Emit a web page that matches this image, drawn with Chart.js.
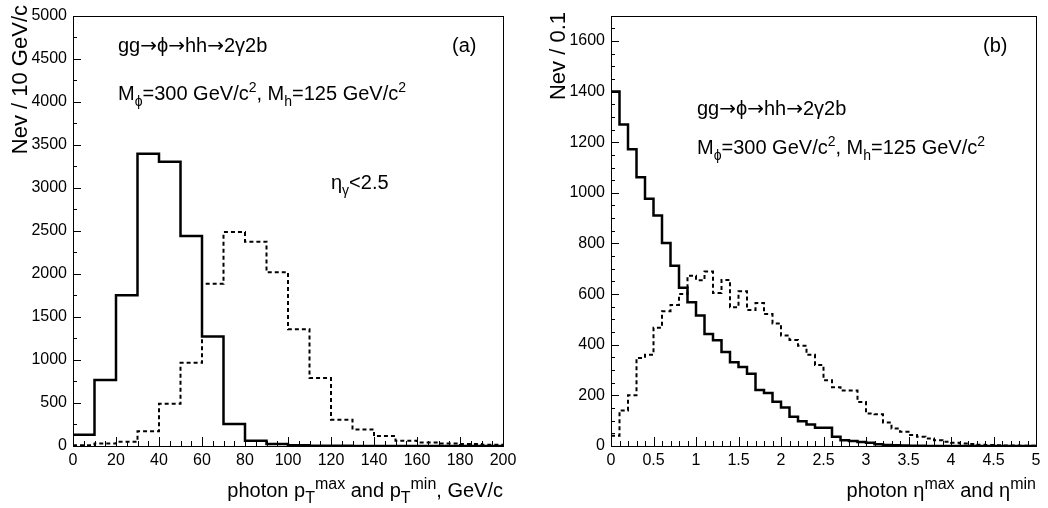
<!DOCTYPE html>
<html>
<head>
<meta charset="utf-8">
<script src="https://cdn.jsdelivr.net/npm/chart.js@4.4.1/dist/chart.umd.min.js"></script>
<style>
  html, body { margin: 0; padding: 0; background: #fff; }
  #wrap { position: relative; width: 1048px; height: 508px; }
  .panel { position: absolute; top: 0; height: 508px; }
  #panel-a { left: 0; width: 530px; }
  #panel-b { left: 530px; width: 518px; }
</style>
</head>
<body>
<div id="wrap">
  <div class="panel" id="panel-a"><canvas id="chart-a"></canvas></div>
  <div class="panel" id="panel-b"><canvas id="chart-b"></canvas></div>
</div>
<script>
/* data: panel (a), photon pT in 10 GeV/c bins starting at 0 */
const PT_BIN_START = 0;
const PT_BIN_WIDTH = 10;
const PT_MIN_COUNTS = [130, 768, 1751, 3394, 3303, 2439, 1273, 256, 61, 24, 8, 4, 2, 1, 1, 0, 0, 0, 0, 0];
const PT_MAX_COUNTS = [10, 30, 50, 172, 490, 967, 1884, 2485, 2374, 2018, 1357, 790, 306, 191, 115, 61, 42, 30, 22, 15];
const PT_X_TICKS = [0, 20, 40, 60, 80, 100, 120, 140, 160, 180, 200];
const PT_Y_TICKS = [0, 500, 1000, 1500, 2000, 2500, 3000, 3500, 4000, 4500, 5000];

/* data: panel (b), photon eta in 0.1 bins starting at 0 */
const ETA_BIN_START = 0;
const ETA_BIN_WIDTH = 0.1;
const ETA_MIN_COUNTS = [
  1400, 1270, 1172, 1062, 977, 910, 802, 712, 625, 568,
  515, 442, 418, 371, 331, 312, 285, 221, 209, 175,
  152, 116, 98, 85, 72, 72, 37, 23, 20, 16,
  13, 7, 4, 3, 2, 1, 1, 0, 0, 0,
  0, 0, 0, 0, 0, 0, 0, 0, 0, 0,
];
const ETA_MAX_COUNTS = [
  40, 140, 200, 348, 360, 467, 532, 557, 600, 672,
  655, 689, 604, 656, 548, 611, 537, 565, 521, 484,
  436, 419, 396, 360, 320, 260, 232, 219, 219, 174,
  128, 125, 93, 69, 56, 43, 37, 30, 23, 17,
  13, 10, 8, 5, 4, 3, 2, 2, 1, 1,
];
const ETA_X_TICKS = [0, 0.5, 1, 1.5, 2, 2.5, 3, 3.5, 4, 4.5, 5];
const ETA_Y_TICKS = [0, 200, 400, 600, 800, 1000, 1200, 1400, 1600];

/* constants */
const FONT_FAMILY = '"Liberation Sans", Arial, Helvetica, sans-serif';
const ARROW_FONT_FAMILY = '"DejaVu Sans", sans-serif';
const TEXT_SIZE = 20;

/* utilities */
const buildHistogramPoints = (start, width, counts) => {
  const points = counts.map((count, index) => ({ x: start + index * width, y: count }));
  points.push({ x: start + counts.length * width, y: counts[counts.length - 1] });
  return points;
};

const formatTick = (value) => String(Math.round(value * 10) / 10);

const pieceFont = (mode, size, scriptScale) => {
  if (mode === 'arrow') return size + 'px ' + ARROW_FONT_FAMILY;
  if (mode) return size * scriptScale + 'px ' + FONT_FAMILY;
  return size + 'px ' + FONT_FAMILY;
};

const drawRichText = (ctx, parts, x, y, size, align, scriptScale = 0.7) => {
  const pieces = parts.map((part) => {
    const [text, mode] = Array.isArray(part) ? part : [part, null];
    const font = pieceFont(mode, size, scriptScale);
    ctx.font = font;
    return { text, mode, font, width: ctx.measureText(text).width };
  });
  const total = pieces.reduce((sum, piece) => sum + piece.width, 0);
  let cursor = align === 'right' ? x - total : x;

  ctx.textAlign = 'left';
  ctx.textBaseline = 'alphabetic';
  for (const piece of pieces) {
    ctx.font = piece.font;
    let shift = 0;
    if (piece.mode === 'sup') shift = -size * 0.42;
    if (piece.mode === 'sub') shift = size * 0.28;
    ctx.fillText(piece.text, cursor, y + shift);
    cursor += piece.width;
  }
};

/* plugins */
const frameAndTicksPlugin = {
  id: 'frameAndTicks',
  afterDatasetsDraw(chart, args, options) {
    const { ctx, chartArea: area, scales } = chart;
    const drawAxisTicks = (scale, minorStep, majorValues, isX) => {
      const count = Math.round((scale.max - scale.min) / minorStep);
      for (let i = 0; i <= count; i++) {
        const value = scale.min + i * minorStep;
        const isMajor = majorValues.some((major) => Math.abs(major - value) < minorStep / 100);
        const pixel = Math.round(scale.getPixelForValue(value)) + 0.5;
        if (isX) {
          const length = isMajor ? options.xMajor : options.xMinor;
          ctx.moveTo(pixel, area.bottom);
          ctx.lineTo(pixel, area.bottom - length);
        } else {
          const length = isMajor ? options.yMajor : options.yMinor;
          ctx.moveTo(area.left, pixel);
          ctx.lineTo(area.left + length, pixel);
        }
      }
    };

    ctx.save();
    ctx.strokeStyle = '#000';
    ctx.lineWidth = 1;
    ctx.beginPath();
    drawAxisTicks(scales.x, options.xStep, options.xTicks, true);
    drawAxisTicks(scales.y, options.yStep, options.yTicks, false);
    ctx.stroke();
    ctx.strokeRect(Math.round(area.left) + 0.5, Math.round(area.top) + 0.5,
      Math.round(area.right - area.left), Math.round(area.bottom - area.top));
    ctx.restore();
  },
};

const labelsPlugin = {
  id: 'labels',
  afterDraw(chart, args, options) {
    const { ctx } = chart;
    ctx.save();
    ctx.fillStyle = '#000';
    for (const label of options.items) {
      const size = label.size || TEXT_SIZE;
      if (label.rotate) {
        ctx.save();
        ctx.translate(label.x, label.y);
        ctx.rotate(-Math.PI / 2);
        drawRichText(ctx, label.parts, 0, 0, size, label.align, label.scriptScale);
        ctx.restore();
      } else {
        drawRichText(ctx, label.parts, label.x, label.y, size, label.align, label.scriptScale);
      }
    }
    ctx.restore();
  },
};

/* chart factory */
const createHistogramChart = (selector, settings) => {
  const element = document.querySelector(selector);
  const tickFont = { family: FONT_FAMILY, size: 16 };

  return new Chart(element, {
    type: 'line',
    data: {
      datasets: [
        {
          label: settings.dashedLabel,
          data: buildHistogramPoints(settings.binStart, settings.binWidth, settings.dashed),
          borderColor: '#000',
          borderWidth: 2,
          borderDash: [4, 3],
          stepped: 'before',
          pointRadius: 0,
          fill: false,
        },
        {
          label: settings.solidLabel,
          data: buildHistogramPoints(settings.binStart, settings.binWidth, settings.solid),
          borderColor: '#000',
          borderWidth: 2.5,
          stepped: 'before',
          pointRadius: 0,
          fill: false,
        },
      ],
    },
    options: {
      responsive: true,
      maintainAspectRatio: false,
      animation: false,
      events: [],
      layout: { padding: settings.padding },
      scales: {
        x: {
          type: 'linear',
          min: settings.xTicks[0],
          max: settings.xTicks[settings.xTicks.length - 1],
          afterBuildTicks: (axis) => { axis.ticks = settings.xTicks.map((value) => ({ value })); },
          afterFit: (axis) => { axis.height = settings.xAxisHeight; },
          grid: { display: false, drawTicks: false },
          border: { display: false },
          ticks: { color: '#000', font: tickFont, padding: 5, maxRotation: 0, autoSkip: false, callback: formatTick },
        },
        y: {
          type: 'linear',
          min: 0,
          max: settings.yMax,
          afterBuildTicks: (axis) => { axis.ticks = settings.yTicks.map((value) => ({ value })); },
          afterFit: (axis) => { axis.width = settings.yAxisWidth; },
          grid: { display: false, drawTicks: false },
          border: { display: false },
          ticks: { color: '#000', font: tickFont, padding: 6, autoSkip: false, callback: formatTick },
        },
      },
      plugins: {
        legend: { display: false },
        tooltip: { enabled: false },
        frameAndTicks: {
          xTicks: settings.xTicks, yTicks: settings.yTicks,
          xStep: settings.xMinorStep, yStep: settings.yMinorStep,
          xMajor: 9, xMinor: 5, yMajor: 8, yMinor: 4,
        },
        labels: { items: settings.labels },
      },
    },
    plugins: [frameAndTicksPlugin, labelsPlugin],
  });
};

const ARROW = ['\u2192', 'arrow'];
const PROCESS_TEXT = ['gg', ARROW, '\u03d5', ARROW, 'hh', ARROW, '2\u03b32b'];
const MASS_TEXT = ['M', ['\u03d5', 'sub'], '=300 GeV/c', ['2', 'sup'], ', M', ['h', 'sub'], '=125 GeV/c', ['2', 'sup']];

document.addEventListener('DOMContentLoaded', () => {
  createHistogramChart('#chart-a', {
    binStart: PT_BIN_START,
    binWidth: PT_BIN_WIDTH,
    solid: PT_MIN_COUNTS,
    dashed: PT_MAX_COUNTS,
    solidLabel: 'photon pT min',
    dashedLabel: 'photon pT max',
    xTicks: PT_X_TICKS,
    yTicks: PT_Y_TICKS,
    yMax: 5000,
    xMinorStep: 5,
    yMinorStep: 250,
    yAxisWidth: 73,
    xAxisHeight: 62,
    padding: { top: 10, right: 27, bottom: 0, left: 0 },
    labels: [
      { parts: PROCESS_TEXT, x: 118, y: 52 },
      { parts: MASS_TEXT, x: 118, y: 100 },
      { parts: ['(a)'], x: 452, y: 52 },
      { parts: ['\u03b7', ['\u03b3', 'sub'], '<2.5'], x: 331, y: 189 },
      { parts: ['Nev / 10 GeV/c'], x: 27, y: 5, align: 'right', rotate: true, size: 22 },
      { parts: ['photon p', ['T', 'sub'], ['max', 'sup'], ' and p', ['T', 'sub'], ['min', 'sup'], ', GeV/c'], x: 503, y: 497, align: 'right', scriptScale: 0.8 },
    ],
  });

  createHistogramChart('#chart-b', {
    binStart: ETA_BIN_START,
    binWidth: ETA_BIN_WIDTH,
    solid: ETA_MIN_COUNTS,
    dashed: ETA_MAX_COUNTS,
    solidLabel: 'photon eta min',
    dashedLabel: 'photon eta max',
    xTicks: ETA_X_TICKS,
    yTicks: ETA_Y_TICKS,
    yMax: 1700,
    xMinorStep: 0.1,
    yMinorStep: 50,
    yAxisWidth: 81,
    xAxisHeight: 62,
    padding: { top: 10, right: 12, bottom: 0, left: 0 },
    labels: [
      { parts: ['(b)'], x: 453, y: 52 },
      { parts: PROCESS_TEXT, x: 167, y: 115 },
      { parts: MASS_TEXT, x: 167, y: 154 },
      { parts: ['Nev / 0.1'], x: 35, y: 12, align: 'right', rotate: true, size: 22 },
      { parts: ['photon \u03b7', ['max', 'sup'], ' and \u03b7', ['min', 'sup']], x: 506, y: 497, align: 'right', scriptScale: 0.8 },
    ],
  });
});
</script>
</body>
</html>
